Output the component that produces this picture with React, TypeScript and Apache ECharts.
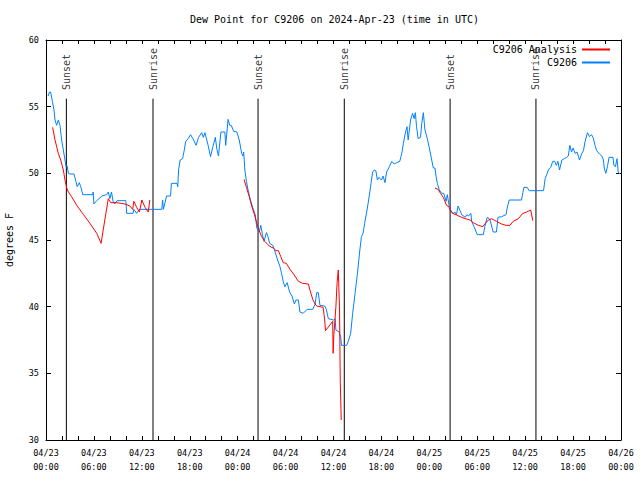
import React, { useEffect, useRef } from "react";
import * as echarts from "echarts";

const FONT = "'DejaVu Sans Mono', 'Liberation Mono', monospace";
const TITLE = "Dew Point for C9206 on 2024-Apr-23 (time in UTC)";

// hours since 04/23 00:00 UTC
const xTickLabels = [
  "04/23\n00:00", "04/23\n06:00", "04/23\n12:00", "04/23\n18:00",
  "04/24\n00:00", "04/24\n06:00", "04/24\n12:00", "04/24\n18:00",
  "04/25\n00:00", "04/25\n06:00", "04/25\n12:00", "04/25\n18:00",
  "04/26\n00:00",
];

const sunNames = ["Sunset", "Sunrise", "Sunset", "Sunrise", "Sunset", "Sunrise"];
const sunHours = [2.55, 13.4, 26.55, 37.35, 50.6, 61.35];
const sunLineTop = 55.6;
const sunLabelBase = 56.1;

const c9206 = [
  [0.25, 55.8], [0.45, 56.1], [0.58, 56.1], [0.8, 55.4], [1.0, 54.75], [1.13, 54.0], [1.33, 53.6],
  [1.54, 54.0], [1.75, 53.6], [1.96, 52.5], [2.17, 51.75], [2.38, 51.0], [2.5, 50.5], [2.65, 50.55],
  [2.8, 50.0], [3.0, 49.95], [3.5, 49.95], [3.75, 49.4], [3.9, 49.0], [4.17, 49.3], [4.35, 49.0],
  [4.6, 48.4], [5.85, 48.4], [5.9, 48.6], [6.0, 47.7], [6.35, 47.95], [7.0, 48.3], [7.6, 48.4],
  [7.8, 48.6], [8.0, 48.1], [8.2, 48.6], [8.4, 47.9], [8.6, 47.7], [8.9, 47.95], [10.0, 47.95],
  [10.1, 47.0], [10.9, 47.0], [11.0, 47.3], [11.35, 47.0], [11.7, 47.3], [14.5, 47.3], [14.6, 48.0],
  [14.7, 47.3], [15.1, 48.3], [15.6, 48.3], [15.7, 49.25], [16.4, 49.25], [16.5, 49.0], [16.6, 50.25],
  [16.8, 51.0], [17.1, 51.1], [17.3, 51.7], [17.5, 52.4], [17.8, 52.6], [18.1, 52.9], [18.4, 52.6],
  [18.8, 52.1], [19.1, 52.7], [19.5, 53.05], [19.7, 52.7], [19.9, 53.05], [20.3, 52.1], [20.6, 51.25],
  [20.9, 52.0], [21.2, 52.7], [21.4, 51.8], [21.6, 51.3], [21.9, 53.1], [22.4, 53.1], [22.5, 52.1],
  [22.8, 54.05], [23.0, 53.6], [23.2, 53.6], [23.5, 53.15], [23.9, 53.1], [24.2, 52.5], [24.5, 51.5],
  [24.65, 51.3], [24.75, 51.6], [24.9, 50.25], [25.1, 49.4], [25.3, 48.75], [25.6, 48.0], [25.9, 47.4],
  [26.2, 46.9], [26.4, 45.9], [26.7, 45.6], [26.9, 46.1], [27.1, 45.4], [27.3, 44.9], [27.6, 45.55],
  [27.8, 45.25], [28.0, 44.75], [28.4, 44.6], [28.7, 44.1], [29.0, 43.5], [29.3, 43.0], [29.5, 42.5],
  [29.7, 41.9], [29.9, 41.5], [30.2, 41.8], [30.5, 41.1], [30.8, 40.8], [31.1, 40.2], [31.3, 40.5],
  [31.6, 40.5], [31.8, 39.6], [32.2, 39.5], [32.7, 39.8], [33.4, 39.8], [33.7, 40.2], [33.9, 41.05],
  [34.1, 41.05], [34.3, 40.1], [34.9, 40.05], [35.1, 39.8], [35.35, 39.1], [36.0, 39.0], [36.2, 39.1],
  [36.3, 38.25], [36.7, 38.1], [36.9, 37.75], [37.0, 37.1], [37.65, 37.1], [37.85, 37.4], [38.15, 38.0],
  [38.4, 39.5], [38.7, 41.0], [39.0, 42.5], [39.3, 44.25], [39.5, 45.25], [39.7, 45.5], [39.9, 46.25],
  [40.2, 47.25], [40.4, 48.0], [40.7, 49.25], [40.9, 50.1], [41.1, 50.25], [41.3, 50.2], [41.5, 49.5],
  [41.7, 49.7], [42.0, 49.5], [42.2, 49.8], [42.45, 49.3], [42.65, 50.1], [43.0, 50.5], [43.3, 50.9],
  [43.6, 50.7], [43.9, 50.8], [44.3, 50.9], [44.55, 51.5], [44.75, 52.25], [44.95, 52.9], [45.2, 53.5],
  [45.35, 52.5], [45.65, 54.0], [45.9, 54.5], [46.1, 54.1], [46.25, 54.55], [46.4, 53.5], [46.6, 52.6],
  [46.9, 52.7], [47.05, 53.75], [47.25, 54.55], [47.45, 53.25], [47.75, 52.6], [48.1, 51.6], [48.3, 51.0],
  [48.5, 50.4], [48.7, 50.4], [48.85, 49.75], [49.0, 49.25], [49.25, 48.75], [49.55, 48.5], [49.8, 48.5],
  [50.1, 47.9], [50.25, 48.4], [50.5, 47.5], [50.8, 47.1], [51.0, 47.0], [51.2, 47.1], [51.4, 46.9],
  [51.6, 47.55], [51.85, 47.2], [52.05, 46.9], [52.5, 46.7], [52.7, 46.9], [52.9, 46.8], [53.2, 47.0],
  [53.3, 46.4], [53.6, 46.0], [54.0, 45.4], [54.75, 45.4], [54.95, 46.0], [55.25, 46.7], [55.5, 46.6],
  [55.6, 46.5], [56.0, 45.6], [56.4, 45.6], [56.6, 46.7], [57.05, 46.75], [57.6, 46.9], [57.75, 47.4],
  [58.0, 48.0], [59.55, 48.0], [59.7, 48.55], [59.85, 48.95], [60.25, 48.95], [60.5, 48.7], [62.3, 48.7],
  [62.5, 49.6], [62.7, 49.9], [62.9, 50.25], [63.2, 50.45], [63.45, 50.9], [63.7, 50.9], [63.9, 50.6],
  [64.1, 50.9], [64.3, 50.25], [64.6, 51.0], [64.9, 51.1], [65.2, 51.2], [65.4, 51.3], [65.6, 52.1],
  [65.8, 51.6], [66.0, 51.9], [66.25, 51.5], [66.5, 51.6], [66.8, 51.0], [67.1, 51.5], [67.3, 51.7],
  [67.5, 52.4], [67.8, 53.05], [68.05, 52.75], [68.3, 52.9], [68.5, 52.7], [68.75, 52.1], [68.95, 51.7],
  [69.3, 51.45], [69.6, 51.3], [69.8, 51.0], [69.9, 50.4], [70.1, 50.0], [70.3, 50.5], [70.5, 51.2],
  [71.0, 51.2], [71.1, 50.6], [71.3, 50.5], [71.5, 51.1], [71.65, 50.1], [71.85, 49.95],
];

const analysis1 = [
  [0.83, 53.45], [1.13, 52.5], [1.54, 51.5], [1.84, 51.0], [2.17, 50.25], [2.38, 49.5], [2.6, 48.9],
  [2.8, 48.6], [3.2, 48.25], [3.85, 47.6], [4.7, 46.9], [5.5, 46.25], [6.35, 45.5], [6.9, 44.75],
  [7.2, 45.9], [7.5, 47.0], [7.8, 48.1], [8.1, 47.8], [8.85, 47.8], [9.9, 47.7], [10.5, 47.55],
  [10.85, 47.3], [11.0, 47.9], [11.35, 47.45], [11.7, 47.1], [12.0, 48.0], [12.4, 47.45], [12.8, 47.1],
  [13.0, 48.0],
];
const analysis2 = [
  [24.8, 49.55], [25.1, 48.95], [25.45, 48.25], [25.75, 47.55], [26.05, 47.0], [26.4, 46.25], [26.7, 45.7],
  [27.0, 45.25], [27.4, 44.9], [27.95, 44.55], [28.45, 44.4], [28.8, 44.2], [29.1, 44.2], [29.4, 43.75],
  [29.7, 43.3], [30.1, 43.25], [30.55, 42.8], [31.05, 42.4], [31.6, 41.9], [32.15, 41.75], [32.85, 41.7],
  [33.05, 41.25], [33.4, 40.55], [33.7, 40.2], [33.9, 40.05], [34.7, 39.95], [34.9, 39.0], [35.0, 38.2],
  [35.9, 38.9], [35.95, 36.5], [36.05, 37.9], [36.3, 40.0], [36.45, 41.8], [36.6, 42.75], [36.75, 40.0],
  [36.85, 34.3], [36.97, 31.5],
];
const analysis3 = [
  [48.7, 48.9], [49.1, 48.8], [49.4, 48.5], [49.75, 48.2], [50.15, 47.6], [50.45, 47.5], [50.6, 47.25],
  [50.9, 47.0], [51.35, 46.9], [51.85, 46.75], [52.5, 46.6], [53.1, 46.5], [53.5, 46.3], [54.15, 46.1],
  [54.7, 46.0], [54.95, 46.2], [55.4, 46.5], [55.8, 46.6], [56.4, 46.4], [57.05, 46.2], [57.6, 46.1],
  [58.1, 46.1], [58.5, 46.4], [59.15, 46.6], [59.7, 47.0], [60.2, 47.1], [60.7, 47.25], [60.95, 46.45],
];

function joinSegments(segs: number[][][]): any[] {
  const out: any[] = [];
  segs.forEach((s, i) => {
    if (i > 0) out.push([(segs[i - 1][segs[i - 1].length - 1][0] + s[0][0]) / 2, "-"]);
    s.forEach((p) => out.push(p));
  });
  return out;
}

export default function App() {
  const ref = useRef<HTMLDivElement>(null);
  useEffect(() => {
    if (!ref.current) return;
    const chart = echarts.init(ref.current, null, { renderer: "svg" });
    const txt = { fontFamily: FONT, fontSize: 8.5, color: "#000" };
    const big = { fontFamily: FONT, fontSize: 10, color: "#000" };
    const sunLineData: any[] = [];
    sunHours.forEach((h, i) => {
      if (i > 0) sunLineData.push([h - 0.01, "-"]);
      sunLineData.push([h, sunLineTop]);
      sunLineData.push([h, 30]);
    });
    const axisLine = { show: true, onZero: false, lineStyle: { color: "#000", width: 1 } };
    const tickX = { show: true, inside: true, length: 4, lineStyle: { color: "#000", width: 1 } };
    const tickY = { show: true, inside: true, length: 5, lineStyle: { color: "#000", width: 1 } };
    chart.setOption({
      animation: false,
      backgroundColor: "#fff",
      textStyle: txt,
      title: {
        text: TITLE,
        left: 190,
        top: 14,
        padding: 0,
        textStyle: { ...big, fontWeight: "normal" },
      },
      legend: {
        data: ["C9206 Analysis", "C9206"],
        orient: "vertical",
        right: 30,
        top: 43,
        align: "right",
        padding: 0,
        itemGap: 0,
        itemWidth: 28,
        itemHeight: 2,
        icon: "rect",
        textStyle: { ...big, lineHeight: 13 },
      },
      grid: {
        left: 46,
        right: 19,
        top: 40,
        bottom: 40,
        containLabel: false,
        outerBoundsMode: "none",
      },
      xAxis: [
        {
          type: "value",
          min: 0,
          max: 72,
          interval: 2,
          axisLine,
          axisTick: tickX,
          splitLine: { show: false },
          axisLabel: {
            ...txt,
            margin: 6,
            lineHeight: 14,
            showMinLabel: true,
            showMaxLabel: true,
            formatter: (v: number) => (v % 6 === 0 ? xTickLabels[v / 6] : ""),
          },
        },
        {
          type: "value",
          position: "top",
          min: 0,
          max: 72,
          interval: 2,
          axisLine,
          axisTick: tickX,
          splitLine: { show: false },
          axisLabel: { show: false },
        },
      ],
      yAxis: [
        {
          type: "value",
          min: 30,
          max: 60,
          interval: 5,
          name: "degrees F",
          nameLocation: "middle",
          nameGap: 32,
          nameTextStyle: big,
          axisLine,
          axisTick: tickY,
          splitLine: { show: false },
          axisLabel: { ...txt, margin: 7 },
        },
        {
          type: "value",
          position: "right",
          min: 30,
          max: 60,
          interval: 5,
          axisLine,
          axisTick: tickY,
          splitLine: { show: false },
          axisLabel: { show: false },
        },
      ],
      series: [
        {
          name: "sun",
          type: "line",
          data: sunLineData,
          symbol: "none",
          silent: true,
          connectNulls: false,
          lineStyle: { color: "#000", width: 1 },
          itemStyle: { color: "#000" },
          z: 1,
        },
        {
          name: "sunLabels",
          type: "scatter",
          data: sunHours.map((h, i) => [h, sunLabelBase, sunNames[i]]),
          symbolSize: 1,
          silent: true,
          itemStyle: { color: "rgba(0,0,0,0)" },
          label: {
            show: true,
            ...big,
            formatter: (p: any) => p.value[2],
            position: "inside",
            offset: [2, 0],
            rotate: 90,
            align: "left",
            verticalAlign: "middle",
          },
          z: 1,
        },
        {
          name: "C9206 Analysis",
          type: "line",
          data: joinSegments([analysis1, analysis2, analysis3]),
          symbol: "none",
          showSymbol: false,
          connectNulls: false,
          lineStyle: { color: "#ff0000", width: 1 },
          itemStyle: { color: "#ff0000" },
          z: 3,
        },
        {
          name: "C9206",
          type: "line",
          data: c9206,
          symbol: "none",
          showSymbol: false,
          lineStyle: { color: "#0080ff", width: 1 },
          itemStyle: { color: "#0080ff" },
          z: 2,
        },
      ],
    });
    return () => chart.dispose();
  }, []);
  return (
    <div
      ref={ref}
      style={{ position: "absolute", left: 0, top: 0, width: 640, height: 480 }}
    />
  );
}
